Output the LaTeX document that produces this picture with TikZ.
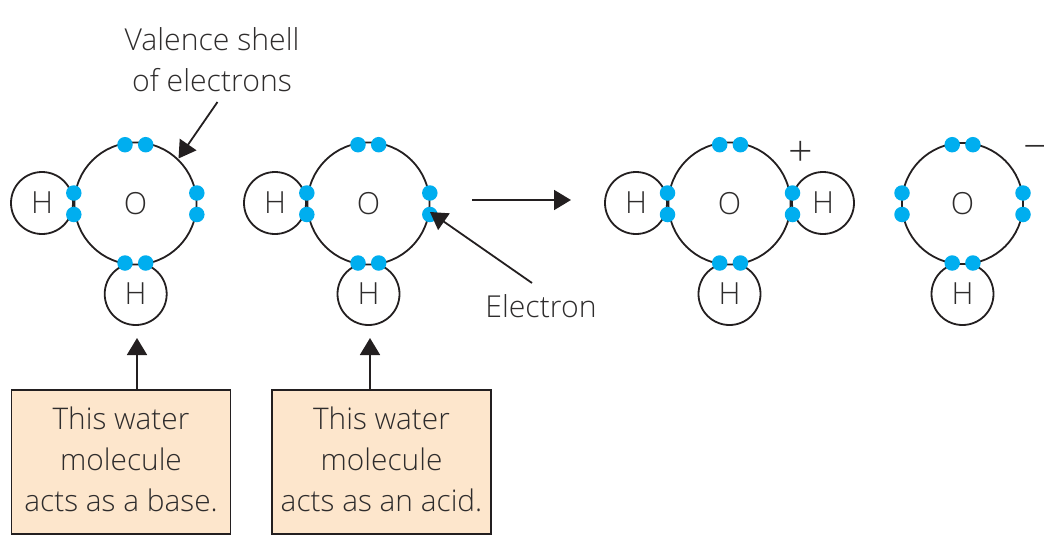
\documentclass[tikz,border=0pt]{standalone}
\usepackage{fontspec}
\setmainfont{Open Sans}[UprightFont=* Light]
\usetikzlibrary{arrows.meta}
\definecolor{txt}{HTML}{2E2C2C}
\definecolor{ln}{HTML}{231F20}
\definecolor{dot}{HTML}{00AEEF}
\definecolor{boxfill}{HTML}{FDE6CC}
\tikzset{
 atomH/.style={circle,draw=ln,line width=1.8pt,fill=white,minimum size=62pt,inner sep=0pt,text=txt,font=\fontsize{30.5}{30}\selectfont},
 atomO/.style={atomH,minimum size=122pt},
 elec/.style={circle,fill=dot,minimum size=15.5pt,inner sep=0pt},
 note/.style={draw=ln,line width=1.8pt,fill=boxfill,minimum width=219pt,minimum height=144pt,align=center,text=txt,inner sep=0pt,font=\fontsize{29.8}{41}\selectfont},
 lab/.style={align=center,text=txt,inner sep=0pt,font=\fontsize{30.2}{41}\selectfont},
 sign/.style={text=txt,inner sep=0pt,font=\fontsize{43}{43}\selectfont},
 arr/.style={draw=ln,line width=1.8pt,-{Triangle[length=17pt,width=20pt]}}
}
\newcommand{\electrons}[3]{% name, centre x, half spread
  \node[elec] (#1t1) at (#2-10.3,144.7) {};
  \node[elec] (#1t2) at (#2+10.4,144.7) {};
  \node[elec] (#1l1) at (#2-#3,193) {};
  \node[elec] (#1l2) at (#2-#3,214.5) {};
  \node[elec] (#1r1) at (#2+#3,193) {};
  \node[elec] (#1r2) at (#2+#3,214.5) {};
  \node[elec] (#1b1) at (#2-10.3,263) {};
  \node[elec] (#1b2) at (#2+10.4,263) {};
}
\begin{document}
\begin{tikzpicture}[x=1pt,y=-1pt]
\useasboundingbox (0,0) rectangle (1044,541);
% molecule 1
\node[atomH] (h1l) at (42,203) {H};
\node[atomH] (h1b) at (135.7,294) {H};
\node[atomO] (o1) at (135.5,203.5) {O};
\electrons{a}{135.3}{61.5}
% molecule 2
\node[atomH] (h2l) at (275,203) {H};
\node[atomH] (h2b) at (368.5,294) {H};
\node[atomO] (o2) at (368.5,203.5) {O};
\electrons{b}{368.3}{61.5}
% molecule 3
\node[atomH] (h3l) at (636,203) {H};
\node[atomH] (h3r) at (823,203) {H};
\node[atomH] (h3b) at (729.5,294) {H};
\node[atomO] (o3) at (729.5,203.5) {O};
\electrons{c}{730}{62.5}
% molecule 4
\node[atomH] (h4b) at (962.5,294) {H};
\node[atomO,minimum size=121pt] (o4) at (962.5,203.5) {O};
\electrons{d}{962.5}{60.5}
% charges
\node[sign] (plus) at (800.7,153.5) {+};
\node[sign] (minus) at (1036,153) {−};
% labels
\node[lab] (shell) at (212,60) {Valence shell\\of electrons};
\node[lab] (electron) at (541,306.5) {Electron};
\node[note] (base) at (121,462) {\raisebox{2.5pt}{\begin{tabular}{@{}c@{}}This water\\molecule\\acts as a base.\end{tabular}}};
\node[note] (acid) at (381.5,462) {\raisebox{2.5pt}{\begin{tabular}{@{}c@{}}This water\\molecule\\acts as an acid.\end{tabular}}};
% free ends
\coordinate (tipa) at (137,338);
\coordinate (tipb) at (370,338);
\coordinate (shellfrom) at (217.5,102);
\coordinate (shelltip) at (178.5,158.5);
\coordinate (eltip) at (430,212);
\coordinate (elfrom) at (532,283);
\coordinate (reactfrom) at (472,200);
\coordinate (reacttip) at (571,200);
% connectors
\draw[arr] (base.north -| tipa) -- (tipa);
\draw[arr] (acid.north -| tipb) -- (tipb);
\draw[arr] (shellfrom) -- (shelltip);
\draw[arr] (elfrom) -- (eltip);
\draw[arr] (reactfrom) -- (reacttip);
\end{tikzpicture}
\end{document}
